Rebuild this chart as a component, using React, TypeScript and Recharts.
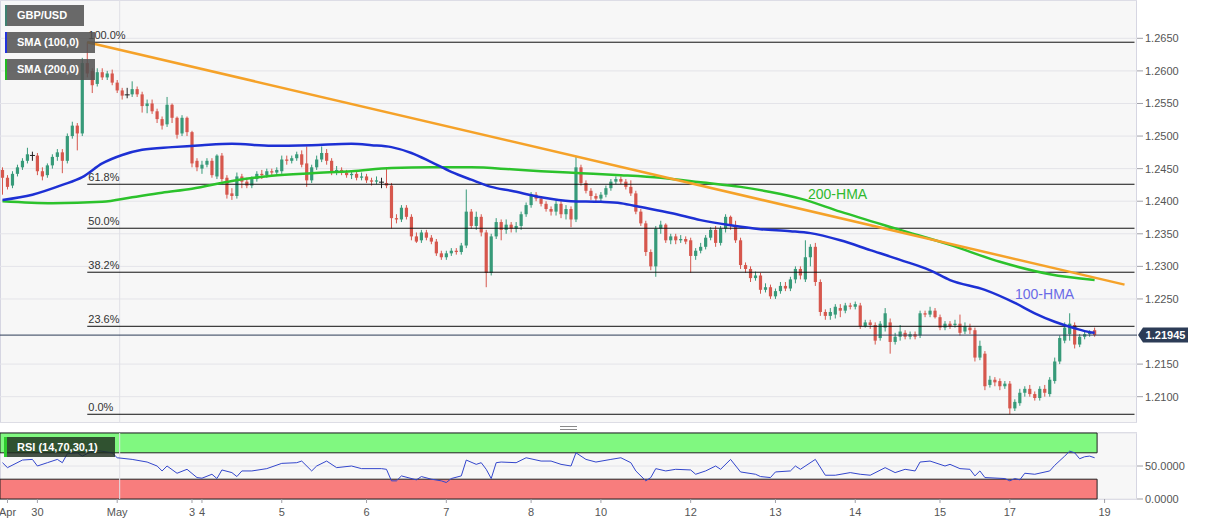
import React from 'react';
import {
  ComposedChart,
  Bar,
  Line,
  XAxis,
  YAxis,
  CartesianGrid,
  ReferenceLine,
  ReferenceArea,
} from 'recharts';

// prices are stored as pips above BASE (value v -> BASE + v * PIP)
const BASE = 1.2;
const PIP = 0.0001;
const SLOTS = 228; // candle slots incl. empty space at right
const LAST_PRICE = 1.21945;

// [open, high, low, close] in pips above 1.2000, hourly GBP/USD
const candles: number[][] = [
  [448, 452, 410, 436], [436, 440, 418, 422], [424, 446, 420, 442], [442, 456, 438, 452], [452, 466, 448, 462],
  [462, 482, 458, 472], [471, 476, 462, 471], [470, 474, 440, 446], [446, 452, 432, 438], [440, 458, 436, 455],
  [455, 472, 450, 468], [468, 480, 462, 475], [475, 480, 443, 462], [462, 504, 458, 500], [500, 522, 496, 516],
  [516, 520, 478, 504], [504, 620, 500, 612], [612, 644, 590, 596], [600, 604, 566, 578], [580, 604, 576, 598],
  [598, 604, 586, 590], [590, 600, 586, 596], [596, 602, 578, 582], [582, 586, 566, 570], [570, 574, 556, 562],
  [564, 574, 558, 564], [564, 584, 560, 572], [572, 576, 560, 564], [564, 568, 536, 546], [546, 556, 535, 550],
  [550, 556, 534, 538], [538, 542, 520, 526], [526, 530, 510, 516], [518, 560, 514, 548], [548, 550, 520, 528],
  [528, 530, 496, 502], [504, 532, 500, 528], [528, 530, 500, 506], [506, 508, 452, 458], [462, 466, 446, 452],
  [450, 462, 442, 456], [456, 466, 452, 462], [462, 466, 436, 440], [438, 472, 434, 470], [470, 474, 430, 434],
  [436, 440, 404, 410], [412, 420, 402, 408], [408, 444, 404, 438], [438, 442, 420, 430], [430, 436, 420, 424],
  [424, 438, 420, 434], [434, 446, 430, 442], [442, 448, 434, 440], [440, 450, 436, 446], [446, 450, 440, 444],
  [444, 452, 440, 448], [446, 470, 442, 464], [464, 470, 456, 462], [462, 470, 458, 466], [466, 476, 462, 472],
  [472, 478, 452, 456], [458, 484, 422, 432], [432, 456, 428, 452], [452, 470, 448, 464], [464, 484, 460, 474],
  [474, 480, 456, 462], [462, 466, 440, 444], [444, 454, 440, 448], [448, 452, 440, 444], [444, 448, 436, 440],
  [440, 446, 434, 442], [442, 446, 432, 436], [436, 444, 432, 438], [438, 442, 428, 432], [432, 436, 424, 430],
  [430, 438, 426, 432], [430, 436, 420, 430], [428, 452, 420, 424], [424, 428, 358, 374], [374, 380, 366, 372],
  [372, 394, 368, 390], [390, 394, 372, 376], [376, 380, 340, 346], [346, 352, 336, 338], [340, 356, 336, 352],
  [352, 356, 340, 344], [344, 348, 334, 338], [338, 342, 316, 320], [320, 324, 310, 314], [314, 324, 310, 320],
  [320, 328, 316, 324], [324, 328, 318, 322], [322, 336, 318, 332], [332, 418, 328, 384], [384, 388, 358, 362],
  [362, 384, 356, 376], [376, 380, 346, 352], [352, 356, 268, 290], [290, 350, 286, 346], [346, 374, 342, 368],
  [368, 372, 340, 356], [356, 372, 350, 364], [364, 368, 352, 358], [358, 368, 352, 362], [362, 384, 356, 380],
  [380, 398, 376, 394], [394, 414, 390, 410], [410, 414, 400, 404], [404, 408, 392, 396], [396, 400, 384, 388],
  [388, 392, 378, 384], [384, 402, 378, 396], [396, 400, 374, 380], [380, 394, 372, 388], [388, 392, 360, 372],
  [372, 468, 368, 452], [452, 456, 424, 428], [428, 432, 412, 416], [416, 420, 402, 408], [408, 412, 400, 404],
  [404, 414, 400, 410], [410, 424, 406, 420], [420, 434, 416, 430], [430, 438, 426, 434], [434, 438, 426, 430],
  [430, 434, 418, 422], [422, 432, 408, 412], [412, 416, 380, 384], [384, 388, 362, 366], [366, 370, 316, 322],
  [322, 326, 294, 300], [300, 362, 284, 358], [358, 370, 350, 364], [364, 366, 336, 340], [340, 350, 334, 346],
  [346, 350, 334, 340], [340, 348, 336, 342], [342, 346, 334, 338], [340, 344, 290, 316], [316, 328, 310, 324],
  [324, 336, 320, 330], [330, 348, 326, 344], [344, 360, 340, 356], [356, 362, 330, 336], [336, 362, 332, 358],
  [358, 380, 352, 376], [376, 378, 356, 362], [362, 370, 336, 340], [340, 344, 296, 302], [302, 306, 290, 296],
  [296, 300, 276, 282], [282, 292, 278, 286], [286, 290, 258, 264], [264, 274, 260, 268], [268, 272, 250, 254],
  [254, 266, 250, 262], [262, 276, 258, 270], [270, 276, 262, 266], [266, 284, 262, 280], [280, 300, 274, 296],
  [296, 300, 280, 286], [280, 340, 276, 314], [314, 334, 300, 330], [330, 336, 270, 276], [276, 280, 224, 230],
  [230, 234, 218, 224], [224, 236, 218, 230], [226, 242, 220, 238], [236, 242, 222, 232], [232, 244, 228, 240],
  [240, 244, 234, 238], [238, 246, 234, 242], [240, 244, 204, 208], [208, 218, 206, 214], [214, 218, 204, 210],
  [210, 214, 180, 186], [190, 216, 186, 212], [206, 236, 200, 228], [214, 220, 166, 184], [184, 198, 180, 192],
  [192, 210, 186, 200], [198, 202, 188, 192], [192, 200, 188, 196], [196, 200, 188, 192], [194, 232, 190, 228],
  [228, 232, 222, 226], [226, 238, 222, 232], [232, 236, 220, 222], [222, 226, 202, 206], [206, 216, 202, 212],
  [212, 216, 204, 208], [210, 218, 206, 212], [212, 226, 194, 198], [200, 214, 196, 208], [206, 212, 196, 202],
  [202, 206, 154, 160], [160, 186, 156, 178], [166, 170, 110, 116], [118, 132, 114, 126], [126, 130, 116, 122],
  [124, 128, 110, 116], [116, 124, 112, 120], [120, 124, 73, 82], [82, 96, 78, 92], [90, 112, 86, 106],
  [106, 116, 100, 112], [112, 118, 100, 104], [104, 108, 94, 98], [98, 116, 94, 112], [112, 118, 100, 106],
  [104, 130, 100, 126], [124, 160, 120, 154], [154, 194, 150, 190], [186, 214, 182, 206], [196, 228, 186, 212],
  [210, 214, 174, 180], [180, 196, 176, 192], [192, 200, 188, 196], [196, 202, 192, 198], [202, 206, 192, 194.5],
];

// Hull moving averages, [slot, pips]
const hma100Pts: number[][] = [
  [0, 402], [6, 410], [12, 425], [16, 437], [20, 458], [24, 471], [28, 479], [34, 483], [40, 486], [46, 488],
  [54, 485], [62, 486], [70, 488], [74, 486], [78, 483], [82, 474], [86, 460], [90, 445], [94, 433], [98, 422],
  [102, 416], [108, 406], [114, 400], [120, 399], [124, 397], [128, 391], [134, 382], [140, 371], [146, 363],
  [152, 357], [158, 354], [162, 351], [168, 340], [174, 325], [180, 310], [186, 294], [190, 279], [197, 264],
  [203, 244], [207, 228], [211, 215], [215, 205], [218, 199], [219, 198],
];
const hma200Pts: number[][] = [
  [0, 400], [10, 397], [20, 399], [26, 406], [32, 413], [38, 419], [46, 431], [54, 439], [62, 443], [70, 446],
  [78, 451], [86, 452], [94, 452], [102, 449], [108, 446], [116, 443], [124, 440], [132, 436], [140, 429],
  [148, 422], [154, 414], [160, 404], [168, 384], [180, 356], [190, 333], [200, 307], [210, 288], [219, 279],
];
// descending trend line [slot, pips]
const trendPts: number[][] = [[17, 644], [225, 272]];

// Fibonacci retracement levels (pips)
const fibLabels = ['100.0%', '61.8%', '50.0%', '38.2%', '23.6%', '0.0%'];
const fibValues = [644, 426, 358.5, 291, 208, 73];
const FIB_START = 17;

// RSI(14) samples [slot, value]
const rsiPts: number[][] = [
  [0, 55], [1, 47.5], [4, 59], [6, 60], [7, 50], [9, 55], [11, 60], [12, 55], [13, 68.5], [15, 70], [16, 65],
  [18, 72.5], [19, 73.5], [22, 70], [23, 62.5], [26, 60], [29, 56], [31, 50], [32, 42.5], [33, 50], [35, 39],
  [37, 45], [39, 32.5], [40, 31.5], [42, 37.5], [43, 31], [44, 44], [46, 40], [47, 34], [48, 42.5], [50, 42.5],
  [53, 46], [56, 54], [59, 55], [60, 57.5], [62, 42.5], [63, 50], [65, 57.5], [67, 47.5], [70, 50], [72, 46],
  [76, 46], [77, 45], [78, 27.5], [79, 27.5], [80, 35], [83, 29], [84, 34], [86, 30], [88, 27.5], [89, 25],
  [90, 31], [92, 35], [93, 59], [95, 52.5], [96, 55], [97, 45], [98, 31], [99, 55], [100, 56], [103, 55],
  [105, 62.5], [108, 57.5], [110, 57.5], [112, 52.5], [114, 50], [115, 70], [117, 60], [119, 56], [122, 60],
  [124, 62.5], [126, 55], [127, 42.5], [129, 27.5], [130, 32.5], [131, 46], [133, 42.5], [135, 45], [138, 44],
  [139, 37.5], [141, 42.5], [143, 50], [144, 45], [146, 60], [148, 41], [151, 37.5], [152, 34], [154, 32.5],
  [155, 41], [158, 42.5], [159, 50], [160, 45], [163, 60], [165, 36], [167, 36], [170, 40], [172, 37.5],
  [174, 36], [177, 47.5], [179, 40], [181, 45], [183, 42.5], [184, 56], [186, 57.5], [189, 50], [190, 52.5],
  [192, 46], [194, 45], [195, 35], [196, 42.5], [197, 32.5], [201, 31], [202, 27.5], [203, 31], [204, 29],
  [205, 39], [207, 37.5], [210, 42.5], [211, 51], [213, 65], [214, 72.5], [215, 70], [216, 61], [217, 64],
  [218, 65], [219, 62.5],
];

// bottom axis labels and their slots
const tickSlots = [1, 7, 23, 38, 40, 56, 73, 89, 106, 120, 138, 155, 171, 188, 202, 221];
const tickLabels = ['Apr', '30', 'May', '3', '4', '5', '6', '7', '8', '10', '12', '13', '14', '15', '17', '19'];
const MAY_SLOT = 23;

const priceTicks = [1.21, 1.215, 1.225, 1.23, 1.235, 1.24, 1.245, 1.25, 1.255, 1.26, 1.265];
const Y_MIN = 1.20596;
const Y_MAX = 1.27088;

const FONT = "'Liberation Sans', Arial, Helvetica, sans-serif";
const UP = '#379a79';
const DOWN = '#d6574d';
const DOJI = '#222222';

const toP = (v: number) => +(BASE + v * PIP).toFixed(6);

type Row = { [k: string]: any };
const rows: Row[] = Array.from({ length: SLOTS }, (_, i) => ({ i }));
candles.forEach(([o, h, l, c], i) => {
  Object.assign(rows[i], { o: toP(o), h: toP(h), l: toP(l), c: toP(c), range: [toP(l), toP(h)] });
});
hma100Pts.forEach(([i, v]) => (rows[i].hma100 = toP(v)));
hma200Pts.forEach(([i, v]) => (rows[i].hma200 = toP(v)));
trendPts.forEach(([i, v]) => (rows[i].trend = toP(v)));
rsiPts.forEach(([i, v]) => (rows[i].rsi = v));

const labelOf: Record<number, string> = {};
tickSlots.forEach((s, k) => (labelOf[s] = tickLabels[k]));

const CandleShape = (props: any) => {
  const { x, y, width, height, payload } = props;
  if (!payload || payload.o == null || x == null) return null;
  const { o, h, l, c } = payload;
  const top = Math.min(y, y + height);
  const hh = Math.abs(height);
  const span = h - l;
  const yAt = (p: number) => (span > 0 ? top + ((h - p) / span) * hh : top);
  const cx = x + width / 2;
  const color = c > o ? UP : c < o ? DOWN : DOJI;
  const y1 = yAt(Math.max(o, c));
  const y2 = yAt(Math.min(o, c));
  const isDoji = c === o;
  return (
    <g>
      <line x1={cx} x2={cx} y1={top} y2={top + hh} stroke={color} strokeWidth={1} />
      <rect
        x={cx - (isDoji ? 2.5 : 1.6)}
        y={y1}
        width={isDoji ? 5 : 3.2}
        height={Math.max(1, y2 - y1)}
        fill={color}
      />
    </g>
  );
};

const FibLabel = (props: any) => {
  const vb = props.viewBox || {};
  return (
    <text x={vb.x + 1} y={vb.y - 3} fill="#333" fontSize={11} fontFamily={FONT}>
      {props.text}
    </text>
  );
};

const PriceTag = (props: any) => {
  const vb = props.viewBox || {};
  const x0 = vb.x + vb.width;
  const yy = vb.y;
  return (
    <g>
      <path
        d={`M${x0 + 1},${yy} L${x0 + 6},${yy - 7.5} L${x0 + 51},${yy - 7.5} L${x0 + 51},${yy + 7.5} L${x0 + 6},${yy + 7.5} Z`}
        fill="#2c3c57"
      />
      <text x={x0 + 28.5} y={yy + 4} textAnchor="middle" fill="#fff" fontSize={11} fontWeight="bold" fontFamily={FONT}>
        {LAST_PRICE.toFixed(5)}
      </text>
    </g>
  );
};

const boxStyle = (top: number, width: number, stripe: string): React.CSSProperties => ({
  position: 'absolute',
  left: 5,
  top,
  width,
  height: 21,
  boxSizing: 'border-box',
  background: 'rgba(82,82,82,0.86)',
  borderLeft: `2px solid ${stripe}`,
  color: '#fff',
  fontFamily: FONT,
  fontWeight: 'bold',
  fontSize: 11,
  lineHeight: '21px',
  paddingLeft: 10,
  whiteSpace: 'nowrap',
});

export default function App() {
  return (
    <div style={{ position: 'relative', width: 1207, height: 526, background: '#fff', fontFamily: FONT, overflow: 'hidden' }}>
      <style>{`body{margin:0;}`}</style>
      {/* panel backgrounds */}
      <div style={{ position: 'absolute', left: 0, top: 0, width: 1137, height: 423, background: '#f7f7f7', border: '1px solid #d6d6e2', boxSizing: 'border-box' }} />
      <div style={{ position: 'absolute', left: 0, top: 432, width: 1137, height: 68, background: '#f7f7f7', border: '1px solid #d6d6e2', boxSizing: 'border-box' }} />

      <div style={{ position: 'absolute', left: 0, top: 0 }}>
        <ComposedChart width={1207} height={423} data={rows} margin={{ top: 0, right: 0, bottom: 0, left: 0 }} barCategoryGap={0}>
          <CartesianGrid vertical={false} stroke="#e4e4e9" />
          <XAxis dataKey="i" type="category" scale="band" hide />
          <YAxis
            orientation="right"
            width={70}
            domain={[Y_MIN, Y_MAX]}
            allowDataOverflow
            ticks={priceTicks}
            tickFormatter={(v: number) => v.toFixed(4)}
            axisLine={false}
            tickLine={{ stroke: '#a0a0a8' }}
            tickSize={6}
            tick={{ fill: '#555', fontSize: 11, fontFamily: FONT }}
          />
          <ReferenceLine x={MAY_SLOT} position="end" stroke="#e0e0e6" />
          {fibValues.map((v, k) => (
            <ReferenceLine
              key={fibLabels[k]}
              segment={[{ x: FIB_START, y: toP(v) }, { x: SLOTS - 1, y: toP(v) }]}
              stroke="#111"
              strokeWidth={1}
              label={<FibLabel text={fibLabels[k]} />}
            />
          ))}
          <Bar dataKey="range" shape={CandleShape} isAnimationActive={false} />
          <Line dataKey="hma200" type="monotone" stroke="#2cc22c" strokeWidth={2.5} dot={false} activeDot={false} connectNulls isAnimationActive={false} />
          <Line dataKey="hma100" type="monotone" stroke="#1d30d4" strokeWidth={2.5} dot={false} activeDot={false} connectNulls isAnimationActive={false} />
          <Line dataKey="trend" type="linear" stroke="#f5a229" strokeWidth={2.5} dot={false} activeDot={false} connectNulls isAnimationActive={false} />
          <ReferenceLine y={LAST_PRICE} stroke="#2c3c57" strokeWidth={1} label={<PriceTag />} />
        </ComposedChart>
      </div>

      <div style={{ position: 'absolute', left: 0, top: 432 }}>
        <ComposedChart width={1207} height={94} data={rows} margin={{ top: 1, right: 0, bottom: 0, left: 0 }}>
          <CartesianGrid vertical={false} stroke="#e4e4e9" />
          <XAxis
            dataKey="i"
            type="category"
            scale="band"
            ticks={tickSlots}
            interval={0}
            tickFormatter={(v: number) => labelOf[v] ?? ''}
            axisLine={false}
            tickLine={{ stroke: '#a0a0a8' }}
            tickSize={4}
            tickMargin={5}
            height={27}
            tick={{ fill: '#555', fontSize: 11, fontFamily: FONT }}
          />
          <YAxis
            orientation="right"
            width={70}
            domain={[0, 100]}
            ticks={[0, 50]}
            tickFormatter={(v: number) => v.toFixed(4)}
            axisLine={false}
            tickLine={{ stroke: '#a0a0a8' }}
            tickSize={6}
            tick={{ fill: '#555', fontSize: 11, fontFamily: FONT }}
          />
          <ReferenceArea x1={0} x2={219} y1={70} y2={100} fill="#80f880" fillOpacity={1} stroke="#222" strokeWidth={1} />
          <ReferenceArea x1={0} x2={219} y1={0} y2={30} fill="#f87d7d" fillOpacity={1} stroke="#222" strokeWidth={1} />
          <ReferenceLine x={MAY_SLOT} position="end" stroke="#e0e0e6" />
          <Line dataKey="rsi" type="linear" stroke="#3346cc" strokeWidth={1} dot={false} activeDot={false} connectNulls isAnimationActive={false} />
        </ComposedChart>
      </div>

      {/* drag handle between panels */}
      <div style={{ position: 'absolute', left: 560, top: 426, width: 17, height: 2, borderTop: '1px solid #8a8a8a', borderBottom: '1px solid #8a8a8a' }} />

      {/* legend boxes */}
      <div style={boxStyle(5, 79, '#3f8070')}>GBP/USD</div>
      <div style={boxStyle(32, 90, '#2233dd')}>SMA (100,0)</div>
      <div style={boxStyle(59, 90, '#22bb22')}>SMA (200,0)</div>
      <div style={{ ...boxStyle(437, 111, '#2ecc2e'), left: 4, height: 20, lineHeight: '20px', background: 'rgba(30,45,30,0.82)', borderLeft: '3px solid #2ecc2e' }}>
        RSI (14,70,30,1)
      </div>

      {/* series annotations */}
      <div style={{ position: 'absolute', left: 808, top: 186, color: '#2fb92f', fontFamily: FONT, fontSize: 14 }}>200-HMA</div>
      <div style={{ position: 'absolute', left: 1015, top: 286, color: '#6a6ae6', fontFamily: FONT, fontSize: 14 }}>100-HMA</div>
    </div>
  );
}
